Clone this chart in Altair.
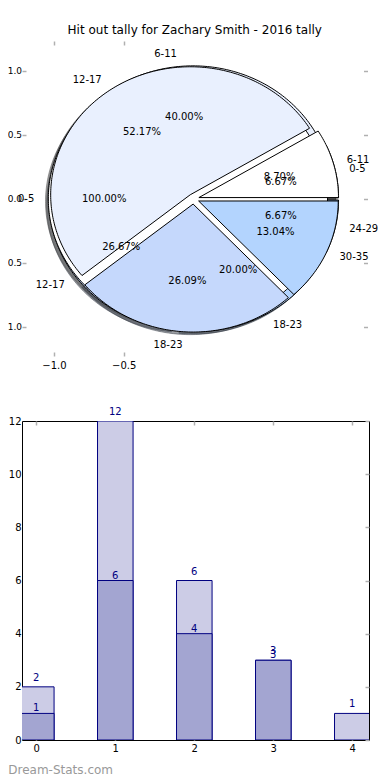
import altair as alt
import numpy as np
import pandas as pd

chart_title = "Hit out tally for Zachary Smith - 2016 tally"
watermark = "Dream-Stats.com"

# three pies drawn on top of each other (bottom to top: B, C, A)
pie_a_labels = ["6-11", "12-17", "18-23", "30-35"]
pie_a_values = [2, 12, 6, 3]
pie_b_labels = ["0-5", "6-11", "12-17", "18-23", "24-29"]
pie_b_values = [1, 6, 4, 3, 1]
pie_c_labels = ["0-5"]
pie_c_values = [1]
pie_colors = ["#FFFFFF", "#E9F0FE", "#C5D8FC", "#B3D4FE", "#9FC3F7"]

pie_x_ticks = [-1.0, -0.5]
pie_y_ticks = [-1.0, -0.5, 0.0, 0.5, 1.0]

bar_positions = [0, 1, 2, 3, 4]
bar_light = [2, 12, 6, 3, 1]
bar_dark = [1, 6, 4, 3, 0]
bar_y_ticks = [0, 2, 4, 6, 8, 10, 12]

EXPLODE = 0.04
SHADOW = -0.02
FONT = "DejaVu Sans"
TICK = "#b0b0b0"

# layout (pixels): expected left edge of each plot area inside the page
PIE_LEFT, PIE_RIGHT, PIE_CX, PIE_PX = 23.5, 369.0, 195.0, 139.6
BAR_LEFT, BAR_RIGHT, BAR_X0, BAR_PX = 23.0, 370.0, 37.3, 79.0


def shade(hexcol):
    r, g, b = (int(hexcol[i:i + 2], 16) for i in (1, 3, 5))
    return "#%02x%02x%02x" % tuple(int(round(0.3 * c)) for c in (r, g, b))


def pie_tables(name, labels, values):
    total = float(sum(values))
    t1 = 0.0
    poly, names, pcts = [], [], []
    for k, (lab, v) in enumerate(zip(labels, values)):
        frac = v / total
        t2 = t1 + 360.0 * frac
        tm = np.deg2rad(0.5 * (t1 + t2))
        cx, cy = EXPLODE * np.cos(tm), EXPLODE * np.sin(tm)
        col = pie_colors[k % len(pie_colors)]
        angles = np.deg2rad(np.linspace(t1, t2, int(np.ceil(t2 - t1)) + 1))
        full = frac > 0.9999
        pts = []
        if not full:
            pts.append((cx, cy))
        pts += list(zip(cx + np.cos(angles), cy + np.sin(angles)))
        if not full:
            pts.append((cx, cy))
        for i, (px, py) in enumerate(pts):
            poly.append({"wedge": f"{name}{k}", "i": i, "x": float(px), "y": float(py),
                         "fill": col, "shade": shade(col)})
        xt, yt = cx + 1.1 * np.cos(tm), cy + 1.1 * np.sin(tm)
        names.append({"text": lab, "x": float(xt), "y": float(yt), "side": "left" if xt > 0 else "right"})
        pcts.append({"text": f"{100 * frac:.2f}%", "x": float(cx + 0.6 * np.cos(tm)),
                     "y": float(cy + 0.6 * np.sin(tm))})
        t1 = t2
    return poly, names, pcts


pa, na, ca = pie_tables("A", pie_a_labels, pie_a_values)
pb, nb, cb = pie_tables("B", pie_b_labels, pie_b_values)
pc, nc, cc = pie_tables("C", pie_c_labels, pie_c_values)

poly_a, poly_b, poly_c = pd.DataFrame(pa), pd.DataFrame(pb), pd.DataFrame(pc)
poly_all = pd.concat([poly_b, poly_c, poly_a], ignore_index=True)
name_df = pd.DataFrame(nb + nc + na)
pct_df = pd.DataFrame(cb + cc + ca)

pie_w = PIE_RIGHT - PIE_LEFT
xs = alt.Scale(domain=[-(PIE_CX - PIE_LEFT) / PIE_PX, (PIE_RIGHT - PIE_CX) / PIE_PX], nice=False, zero=False)
ys = alt.Scale(domain=[-1.227, 1.234], nice=False, zero=False)

common = dict(domain=False, grid=False, tickColor=TICK, tickSize=4, tickWidth=1.5, offset=-4,
              labelFont=FONT, labelFontSize=10, labelColor="black")
x_bottom = alt.Axis(orient="bottom", values=pie_x_ticks, labelPadding=4,
                    labelExpr="replace(format(datum.value, '.1f'), '-', '\u2212')", **common)
x_top = alt.Axis(orient="top", values=pie_x_ticks, labels=False, **common)
y_left = alt.Axis(orient="left", values=pie_y_ticks, labelPadding=0.5,
                  labelExpr="format(abs(datum.value), '.1f')",
                  **{**common, "labelFontSize": 9})
y_right = alt.Axis(orient="right", values=pie_y_ticks, labels=False, **common)

shadows = alt.Chart(poly_all).transform_calculate(
    sx=f"datum.x + ({SHADOW})", sy=f"datum.y + ({SHADOW})"
).mark_line(strokeWidth=1, fillOpacity=0.5, strokeOpacity=0.5).encode(
    x=alt.X("sx:Q", scale=xs, axis=x_bottom, title=None),
    y=alt.Y("sy:Q", scale=ys, axis=y_left, title=None),
    detail="wedge:N",
    order=alt.Order("i:Q"),
    fill=alt.Fill("shade:N", scale=None),
    stroke=alt.Stroke("shade:N", scale=None),
)


def wedges(df, with_axes=False):
    return alt.Chart(df).mark_line(stroke="black", strokeWidth=1).encode(
        x=alt.X("x:Q", scale=xs, axis=x_top if with_axes else None, title=None),
        y=alt.Y("y:Q", scale=ys, axis=y_right if with_axes else None, title=None),
        detail="wedge:N",
        order=alt.Order("i:Q"),
        fill=alt.Fill("fill:N", scale=None),
    )


def texts(df, align, flt=None):
    c = alt.Chart(df)
    if flt:
        c = c.transform_filter(flt)
    return c.mark_text(align=align, baseline="middle", font=FONT, fontSize=10, color="black").encode(
        x=alt.X("x:Q", scale=xs, axis=None),
        y=alt.Y("y:Q", scale=ys, axis=None),
        text="text:N",
    )


pie = alt.layer(
    shadows,
    wedges(poly_b, True),
    wedges(poly_c),
    wedges(poly_a),
    texts(name_df, "left", "datum.side == 'left'"),
    texts(name_df, "right", "datum.side == 'right'"),
    texts(pct_df, "center"),
).resolve_axis(x="independent", y="independent").properties(
    width=pie_w, height=315,
    view=alt.ViewBackground(stroke="transparent"),
    title=alt.TitleParams(chart_title, font=FONT, fontSize=12, fontWeight="normal",
                          color="black", anchor="middle", offset=3),
)

# ---------- bar chart ----------
bars = pd.DataFrame({"pos": bar_positions, "light": bar_light, "dark": bar_dark})
bar_w = BAR_RIGHT - BAR_LEFT
bx = alt.Scale(domain=[-(BAR_X0 - BAR_LEFT) / BAR_PX, (BAR_RIGHT - BAR_X0) / BAR_PX], nice=False, zero=False)
by = alt.Scale(domain=[0, 12], nice=False, zero=True)

bcommon = dict(domain=False, grid=False, tickColor=TICK, tickWidth=1.5,
               labelFont=FONT, labelFontSize=10, labelColor="black")
bx_bottom = alt.Axis(orient="bottom", values=bar_positions, format="d", tickSize=4, offset=-4,
                     labelPadding=3, **bcommon)
bx_top = alt.Axis(orient="top", values=bar_positions, labels=False, tickSize=4, offset=-4, **bcommon)
by_left = alt.Axis(orient="left", values=bar_y_ticks, format="d", tickSize=0, labelPadding=1, **bcommon)
by_right = alt.Axis(orient="right", values=bar_y_ticks, labels=False, tickSize=4, offset=-4, **bcommon)

bbase = alt.Chart(bars).transform_calculate(
    left="datum.pos - 0.225", right="datum.pos + 0.225", zero="0"
)
light_bars = bbase.mark_rect(fill="#CCCCE6", stroke="#000080", strokeWidth=1, clip=True).encode(
    x=alt.X("left:Q", scale=bx, axis=bx_bottom, title=None),
    x2="right:Q",
    y=alt.Y("light:Q", scale=by, axis=by_left, title=None),
    y2="zero:Q",
)
dark_bars = bbase.transform_filter("datum.dark > 0").mark_rect(
    fill="#A3A5D1", stroke="#000080", strokeWidth=1, clip=True).encode(
    x=alt.X("left:Q", scale=bx, axis=bx_top, title=None),
    x2="right:Q",
    y=alt.Y("dark:Q", scale=by, axis=by_right, title=None),
    y2="zero:Q",
)
light_text = bbase.mark_text(dy=-9, baseline="middle", font=FONT, fontSize=10, color="#000080").encode(
    x=alt.X("pos:Q", scale=bx, axis=None),
    y=alt.Y("light:Q", scale=by, axis=None),
    text="light:Q",
)
dark_text = bbase.transform_filter("datum.dark > 0").mark_text(
    dy=-5, baseline="middle", font=FONT, fontSize=10, color="#000080").encode(
    x=alt.X("pos:Q", scale=bx, axis=None),
    y=alt.Y("dark:Q", scale=by, axis=None),
    text="dark:Q",
)

bar = alt.layer(light_bars, dark_bars, light_text, dark_text).resolve_axis(
    x="independent", y="independent"
).properties(
    width=bar_w, height=319,
    view=alt.ViewBackground(stroke="black", strokeWidth=1),
    title=alt.TitleParams(watermark, orient="bottom", anchor="start", frame="bounds",
                          font=FONT, fontSize=12, fontWeight="normal", color="#999999", offset=12),
)

chart = alt.concat(pie, bar, columns=1, spacing=35, align="none").properties(
    padding={"left": -2, "top": 15, "right": 0, "bottom": 0}
)

chart.save("out.html", embed_options={"renderer": "svg", "actions": False})
